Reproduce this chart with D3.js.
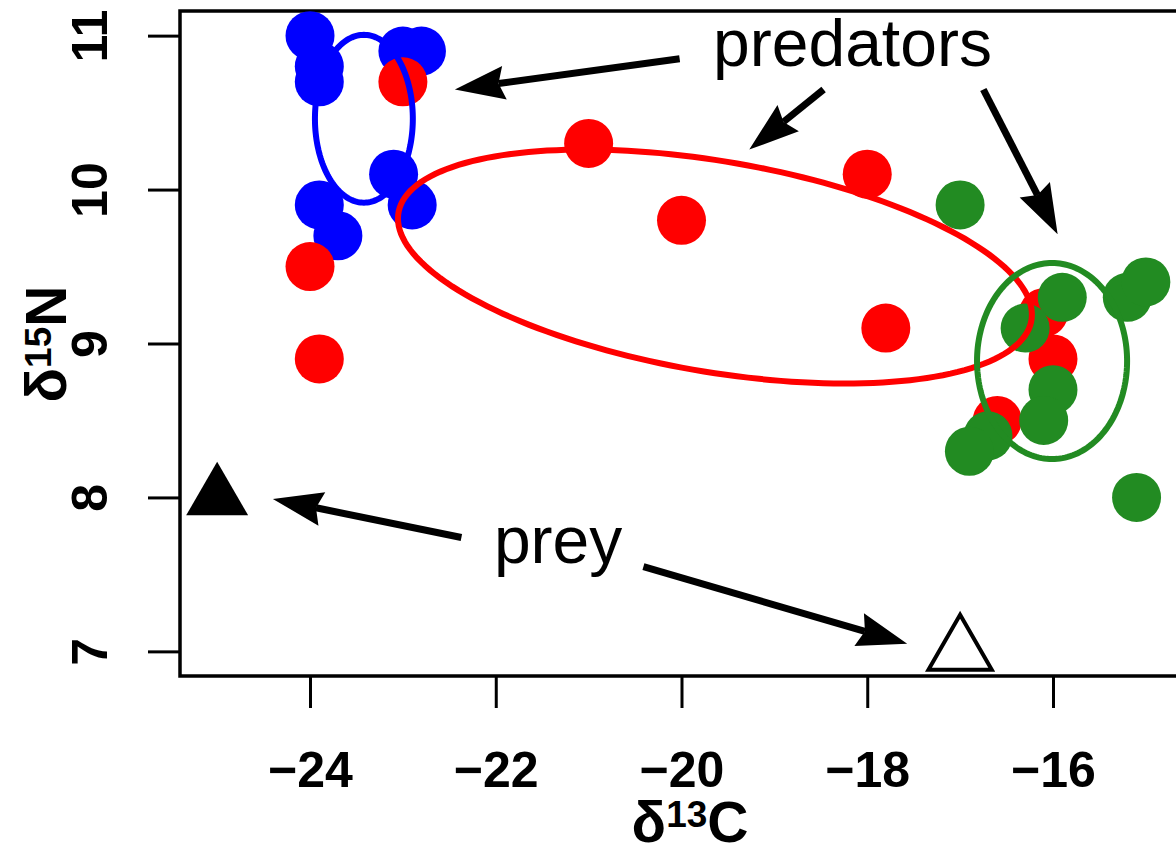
<!DOCTYPE html>
<html lang="en">
<head>
    <meta charset="utf-8" />
    <title>Isotope niches of predators and prey</title>
    <script src="https://cdnjs.cloudflare.com/ajax/libs/d3/7.8.5/d3.min.js"></script>
    <style>
        body { margin: 0; background: #fff; }
        svg { display: block; font-family: "Liberation Sans", Arial, Helvetica, sans-serif; }
        .axis text { font-weight: bold; font-size: 50px; fill: #000; }
        .axis line { stroke: #000; stroke-width: 3; }
        .axis path { display: none; }
        .title { font-weight: bold; font-size: 57px; }
        .note { font-size: 66px; }
    </style>
</head>
<body>
<script>
    const W = 1176, H = 848;

    // predator groups: d13C / d15N
    const blueC  = [-24.0, -23.9, -23.9, -23.0, -22.8, -23.1, -22.9, -23.9, -23.7];
    const blueN  = [11.0, 10.8, 10.7, 10.9, 10.9, 10.1, 9.9, 9.9, 9.7];
    const redC   = [-23.0, -24.0, -23.9, -21.0, -20.0, -18.0, -17.8, -16.1, -16.0, -16.6];
    const redN   = [10.7, 9.5, 8.9, 10.3, 9.8, 10.1, 9.1, 9.2, 8.9, 8.5];
    const greenC = [-17.0, -15.9, -16.3, -16.0, -16.1, -16.7, -16.9, -15.2, -15.0, -15.1];
    const greenN = [9.9, 9.3, 9.1, 8.7, 8.5, 8.4, 8.3, 9.3, 9.4, 8.0];

    // prey sources
    const preyC = [-25, -17];
    const preyN = [8, 7];
    const preyFilled = [true, false];

    // ellipses: centre and two conjugate half-axes (data units)
    const ellipseNames = ["blue", "red", "green"];
    const ellipseCentre = [[-23.42, 10.46], [-19.64, 9.50], [-16.01, 8.886]];
    const ellipseU = [[0.527, 0], [3.413, -0.312], [0.808, 0]];
    const ellipseV = [[0, 0.545], [0, 0.693], [0, 0.637]];

    const xTicks = [-24, -22, -20, -18, -16];
    const yTicks = [7, 8, 9, 10, 11];

    // annotation arrows, [fromC, fromN, toC, toN]
    const arrows = [
        [-20.02, 10.85, -22.44, 10.65],
        [-18.47, 10.65, -19.27, 10.26],
        [-16.75, 10.65, -15.95, 9.71],
        [-22.37, 7.74, -24.40, 7.99],
        [-20.41, 7.55, -17.57, 7.05]
    ];
    const labels = ["predators", "prey"];
    const labelPos = [[-19.66, 10.80], [-22.02, 7.574]];

    const colors = { blue: "#0000ff", red: "#ff0000", green: "#228b22" };

    const svg = d3.select("body").append("svg")
        .attr("width", W).attr("height", H);

    const x = d3.scaleLinear().domain([-25.4, -14.6]).range([180, 1183]);
    const y = d3.scaleLinear().domain([6.84, 11.16]).range([676, 11]);

    // axes
    const gx = svg.append("g").attr("class", "axis")
        .attr("transform", "translate(0,676)")
        .call(d3.axisBottom(x).tickValues(xTicks).tickSize(32)
            .tickFormat(d => "\u2212" + Math.abs(d)));
    gx.selectAll("text").attr("y", 111).attr("dy", null);

    const gy = svg.append("g").attr("class", "axis")
        .attr("transform", "translate(180,0)")
        .call(d3.axisLeft(y).tickValues(yTicks).tickSize(32).tickFormat(d3.format("d")));
    gy.selectAll("text")
        .attr("x", null).attr("dy", null)
        .attr("text-anchor", "middle")
        .attr("transform", "translate(-73,0) rotate(-90)");

    // box
    svg.append("rect")
        .attr("x", x.range()[0]).attr("y", y.range()[1])
        .attr("width", x.range()[1] - x.range()[0])
        .attr("height", y.range()[0] - y.range()[1])
        .attr("fill", "none").attr("stroke", "#000").attr("stroke-width", 3.5);

    // points
    const groups = [
        { c: blueC, n: blueN, col: colors.blue },
        { c: redC, n: redN, col: colors.red },
        { c: greenC, n: greenN, col: colors.green }
    ];
    groups.forEach(gr => {
        svg.append("g").selectAll("circle")
            .data(gr.c.map((c, i) => [c, gr.n[i]]))
            .join("circle")
            .attr("cx", d => x(d[0]))
            .attr("cy", d => y(d[1]))
            .attr("r", 24.5)
            .attr("fill", gr.col);
    });

    // ellipses
    const line = d3.line().x(d => x(d[0])).y(d => y(d[1])).curve(d3.curveLinearClosed);
    ellipseNames.forEach((name, k) => {
        const [cx, cy] = ellipseCentre[k], u = ellipseU[k], v = ellipseV[k];
        const pts = d3.range(0, 2 * Math.PI, Math.PI / 90).map(t => [
            cx + u[0] * Math.cos(t) + v[0] * Math.sin(t),
            cy + u[1] * Math.cos(t) + v[1] * Math.sin(t)
        ]);
        svg.append("path").attr("d", line(pts))
            .attr("fill", "none").attr("stroke", colors[name]).attr("stroke-width", 6);
    });

    // prey triangles (R pch 17 / pch 2 geometry)
    const tri = s => {
        const r = 1.555 * s, xc = 1.347 * s, yc = 0.778 * s;
        return `M0,${-r}L${xc},${yc}L${-xc},${yc}Z`;
    };
    svg.append("g").selectAll("path")
        .data(preyC.map((c, i) => [c, preyN[i], preyFilled[i]]))
        .join("path")
        .attr("transform", d => `translate(${x(d[0])},${y(d[1])})`)
        .attr("d", d => d[2] ? tri(23) : tri(23.5))
        .attr("fill", d => d[2] ? "#000" : "#fff")
        .attr("stroke", d => d[2] ? "none" : "#000")
        .attr("stroke-width", 4)
        .attr("stroke-linejoin", "miter");

    // arrows
    const ag = svg.append("g");
    arrows.forEach(a => {
        const x0 = x(a[0]), y0 = y(a[1]), x1 = x(a[2]), y1 = y(a[3]);
        const len = Math.hypot(x1 - x0, y1 - y0);
        const ux = (x1 - x0) / len, uy = (y1 - y0) / len;
        const nx = -uy, ny = ux;
        const hl = 50, hw = 17, notch = 44;
        ag.append("line")
            .attr("x1", x0).attr("y1", y0)
            .attr("x2", x1 - ux * notch).attr("y2", y1 - uy * notch)
            .attr("stroke", "#000").attr("stroke-width", 7);
        const bx = x1 - ux * hl, by = y1 - uy * hl;
        ag.append("path")
            .attr("d", `M${x1},${y1}L${bx + nx * hw},${by + ny * hw}` +
                `L${x1 - ux * notch},${y1 - uy * notch}L${bx - nx * hw},${by - ny * hw}Z`)
            .attr("fill", "#000");
    });

    // labels
    svg.append("g").selectAll("text")
        .data(labels)
        .join("text")
        .attr("class", "note")
        .attr("x", (d, i) => x(labelPos[i][0]))
        .attr("y", (d, i) => y(labelPos[i][1]))
        .text(d => d);

    // axis titles
    const xt = svg.append("text").attr("class", "title")
        .attr("x", 690).attr("y", 842).attr("text-anchor", "middle");
    xt.append("tspan").text("\u03b4");
    xt.append("tspan").attr("font-size", 37).attr("dy", -15).text("13");
    xt.append("tspan").attr("dy", 15).text("C");

    const yt = svg.append("text").attr("class", "title")
        .attr("transform", "translate(66,344) rotate(-90)")
        .attr("text-anchor", "middle");
    yt.append("tspan").text("\u03b4");
    yt.append("tspan").attr("font-size", 37).attr("dy", -15).text("15");
    yt.append("tspan").attr("dy", 15).text("N");
</script>
</body>
</html>
